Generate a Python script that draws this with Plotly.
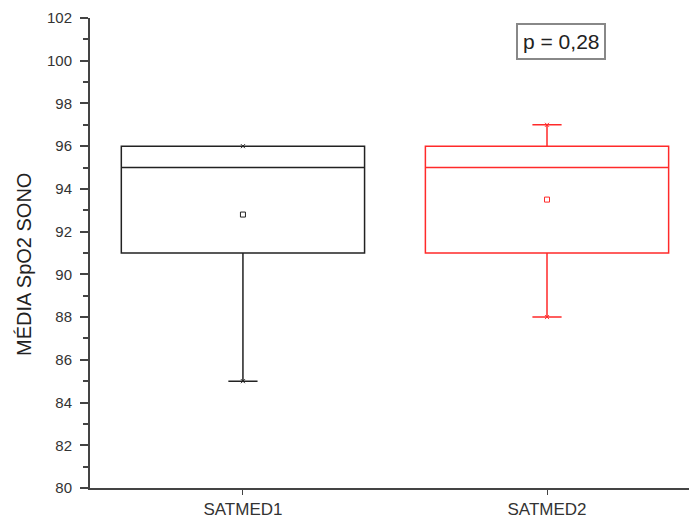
import plotly.graph_objects as go

# Summary statistics per group
groups = ["SATMED1", "SATMED2"]
colors = ["#222222", "#ff2a2a"]
q1 = [91, 91]
median = [95, 95]
q3 = [96, 96]
whisker_low = [85, 88]
whisker_high = [96, 97]
means = [92.8, 93.5]
p_text = "p = 0,28"
y_title = "MÉDIA SpO2 SONO"

FONT = "Arial, Liberation Sans, Helvetica, sans-serif"
W, H = 689, 521
ML, MR, MT, MB = 90, 0, 18, 33
PW, PH = W - ML - MR, H - MT - MB


def px_to_paper(px, py):
    return (px - ML) / PW, 1 - (py - MT) / PH


fig = go.Figure()
for i, g in enumerate(groups):
    fig.add_trace(go.Box(
        x=[g], q1=[q1[i]], median=[median[i]], q3=[q3[i]],
        lowerfence=[whisker_low[i]], upperfence=[whisker_high[i]],
        width=0.8, whiskerwidth=0.12,
        line=dict(color=colors[i], width=1.5),
        fillcolor="rgba(255,255,255,0)",
        boxpoints=False, hoverinfo="skip", showlegend=False,
    ))
    # mean marker
    fig.add_trace(go.Scatter(
        x=[g], y=[means[i]], mode="markers",
        marker=dict(symbol="square-open", size=5, color=colors[i],
                    line=dict(width=1, color=colors[i])),
        showlegend=False, hoverinfo="skip",
    ))
    # min / max markers
    fig.add_trace(go.Scatter(
        x=[g, g], y=[whisker_low[i], whisker_high[i]], mode="markers",
        marker=dict(symbol="x-thin-open", size=4, color=colors[i],
                    line=dict(width=1, color=colors[i])),
        showlegend=False, hoverinfo="skip",
    ))

# p-value label in the upper right
px, py = px_to_paper(561, 41)
fig.add_annotation(
    x=px, y=py, xref="paper", yref="paper", xanchor="center", yanchor="middle",
    text=p_text, showarrow=False,
    font=dict(family=FONT, size=21, color="#222"),
    bordercolor="#888", borderwidth=2, borderpad=5, bgcolor="white",
)

# vertical axis title
tx, ty = px_to_paper(24, 265)
fig.add_annotation(
    x=tx, y=ty, xref="paper", yref="paper", xanchor="center", yanchor="middle",
    text=y_title, textangle=-90, showarrow=False,
    font=dict(family=FONT, size=20, color="#222"),
)

fig.update_layout(
    width=W, height=H,
    margin=dict(l=ML, r=MR, t=MT, b=MB),
    paper_bgcolor="white", plot_bgcolor="white",
    font=dict(family=FONT, size=15, color="#333"),
    xaxis=dict(
        type="category", range=[-0.503, 1.467],
        showline=True, linecolor="#444", linewidth=2,
        ticks="outside", ticklen=5, tickcolor="#444", tickwidth=1,
        showgrid=False, zeroline=False,
        tickfont=dict(family=FONT, size=17, color="#333"),
    ),
    yaxis=dict(
        range=[80, 102], dtick=2, tick0=80,
        showline=True, linecolor="#444", linewidth=2,
        ticks="outside", ticklen=8, tickcolor="#444", tickwidth=1.5,
        ticklabelstandoff=5,
        minor=dict(ticks="outside", ticklen=5, dtick=1, tickcolor="#444", tickwidth=1.5),
        showgrid=False, zeroline=False,
        tickfont=dict(family=FONT, size=15, color="#333"),
    ),
)

fig.write_html("out.html")
